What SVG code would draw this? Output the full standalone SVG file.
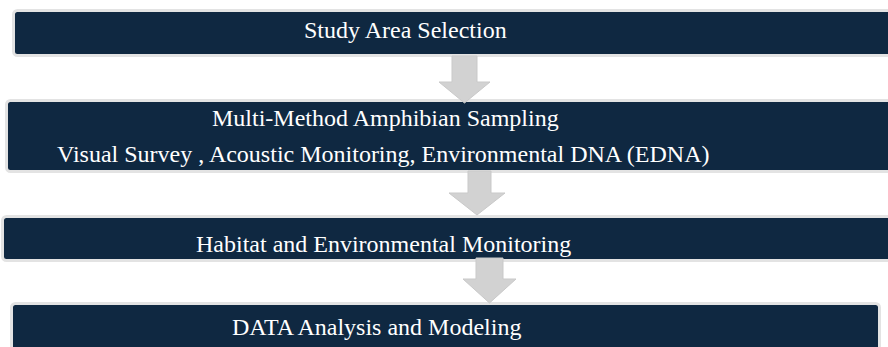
<svg xmlns="http://www.w3.org/2000/svg" width="888" height="347" viewBox="0 0 888 347">
  <style>
    .box { fill: #0f2841; stroke: #e3e3e3; stroke-width: 3; }
    .lbl { font-family: "Liberation Serif", "Times New Roman", serif; font-size: 24px; fill: #ffffff; }
    .arrow { fill: #d2d2d2; stroke: #c9c9c9; stroke-width: 1; }
  </style>
  <rect width="888" height="347" fill="#ffffff"/>

  <g id="study-area">
    <rect class="box" x="13.5" y="10.5" width="890" height="45" rx="4"/>
    <text class="lbl" x="304" y="38">Study Area Selection</text>
  </g>

  <g id="sampling">
    <rect class="box" x="6.5" y="100.5" width="900" height="71" rx="4"/>
    <text class="lbl" x="212" y="126">Multi-Method Amphibian Sampling</text>
    <text class="lbl" x="57" y="162">Visual Survey , Acoustic Monitoring, Environmental DNA (EDNA)</text>
  </g>

  <g id="habitat">
    <rect class="box" x="2.5" y="216.5" width="900" height="44" rx="4"/>
    <text class="lbl" x="196" y="252">Habitat and Environmental Monitoring</text>
  </g>

  <g id="analysis">
    <rect class="box" x="11.5" y="303.5" width="868" height="60" rx="4"/>
    <text class="lbl" x="232" y="335">DATA Analysis and Modeling</text>
  </g>

  <g id="connectors">
    <path class="arrow" d="M452,56 H477 V82 H490 L464.5,103 L439,82 H452 Z"/>
    <path class="arrow" d="M468,171 H491 V193 H505 L477,215 L449,193 H468 Z"/>
    <path class="arrow" d="M476,258 H503 V279 H516 L489.5,303 L463,279 H476 Z"/>
  </g>
</svg>
